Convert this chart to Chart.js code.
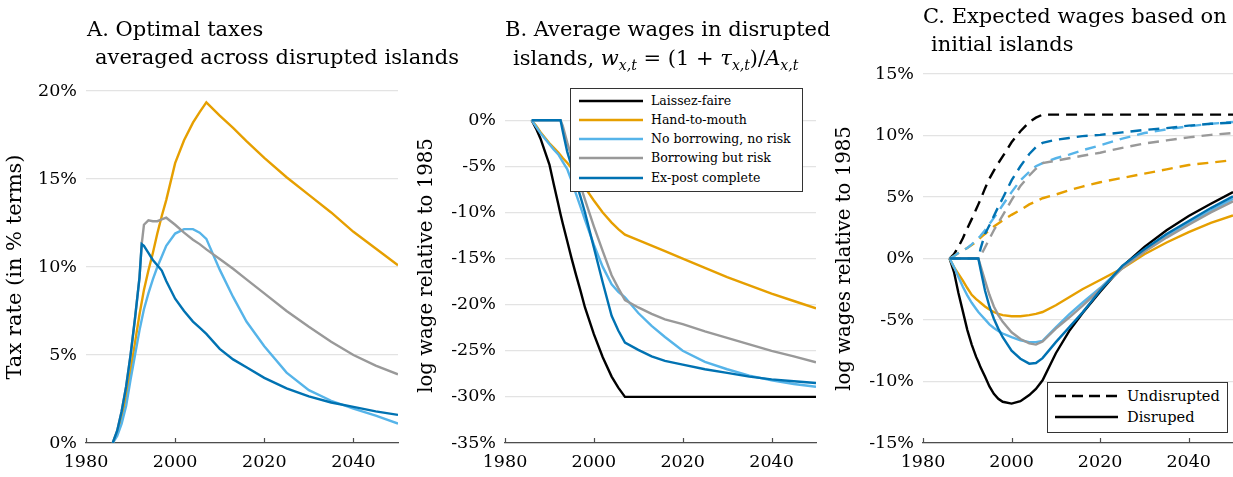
<!DOCTYPE html>
<html>
<head>
<meta charset="utf-8">
<script src="https://cdn.jsdelivr.net/npm/chart.js@4.4.0/dist/chart.umd.min.js"></script>
<style>
  body { margin: 0; background: #fff; width: 1233px; height: 477px; overflow: hidden; position: relative; font-family: "DejaVu Serif", serif; color: #000; }
  canvas { position: absolute; top: 0; }
  .ttl { position: absolute; font-size: 21px; line-height: 24px; white-space: nowrap; }
  .ttl sub { font-size: 14px; vertical-align: -5px; line-height: 0; }
  .legend { position: absolute; background: #fff; border: 1px solid #333; box-sizing: border-box; }
  .legend svg { position: absolute; }
  .legend span { position: absolute; white-space: nowrap; }
</style>
</head>
<body>
<canvas id="panelA" width="405" height="477" style="left:0"></canvas>
<canvas id="panelB" width="415" height="477" style="left:405px"></canvas>
<canvas id="panelC" width="413" height="477" style="left:820px"></canvas>

<div class="ttl" style="left:87px;top:17px">A. Optimal taxes</div>
<div class="ttl" style="left:95px;top:45px">averaged across disrupted islands</div>
<div class="ttl" style="left:505px;top:17px">B. Average wages in disrupted</div>
<div class="ttl" style="left:513px;top:46px">islands, <i>w</i><sub><i>x,t</i></sub> = (1 + <i>τ</i><sub><i>x,t</i></sub>)/<i>A</i><sub><i>x,t</i></sub></div>
<div class="ttl" style="left:923px;top:4px">C. Expected wages based on</div>
<div class="ttl" style="left:931px;top:32px">initial islands</div>

<div id="legendB" class="legend" style="left:570px;top:88px;width:233px;height:104px"></div>
<div id="legendC" class="legend" style="left:1047px;top:382px;width:181px;height:51px"></div>

<script>
// shared time axis (years)
var years = [1986, 1987, 1988, 1989, 1990, 1991, 1992, 1992.5, 1993, 1994, 1995, 1996, 1997, 1998,
             2000, 2002, 2004, 2005.5, 2007, 2010, 2013, 2016, 2020, 2025, 2030, 2035, 2040, 2045, 2050];

var modelNames = ['Laissez-faire', 'Hand-to-mouth', 'No borrowing, no risk', 'Borrowing but risk', 'Ex-post complete'];
var modelColors = ['#000000', '#E69F00', '#56B4E9', '#999999', '#0072B2'];

// A. optimal taxes (%)
var taxHandToMouth = [0, 0.6, 1.5, 2.6, 4.1, 5.7, 7.3, 8.0, 8.7, 9.8, 10.8, 11.9, 12.9, 13.8,
                      15.9, 17.2, 18.2, 18.8, 19.35, 18.6, 17.9, 17.15, 16.2, 15.1, 14.1, 13.1, 12.0, 11.05, 10.1];
var taxNoBorrowing = [0, 0.4, 1.1, 2.1, 3.6, 5.0, 6.4, 7.0, 7.6, 8.5, 9.3, 10.0, 10.6, 11.2,
                      11.9, 12.15, 12.15, 11.95, 11.6, 9.85, 8.3, 6.9, 5.5, 4.0, 3.0, 2.4, 1.95, 1.55, 1.1];
var taxBorrowRisk = [0, 0.7, 1.8, 3.2, 5.0, 7.1, 9.4, 11.3, 12.4, 12.65, 12.6, 12.6, 12.7, 12.8,
                     12.4, 11.95, 11.55, 11.3, 11.0, 10.45, 9.9, 9.3, 8.5, 7.5, 6.6, 5.75, 5.0, 4.4, 3.9];
var taxExPost = [0, 0.7, 1.8, 3.2, 5.0, 7.1, 9.4, 11.3, 11.2, 10.8, 10.4, 10.1, 9.8, 9.2,
                 8.2, 7.5, 6.9, 6.55, 6.2, 5.35, 4.75, 4.3, 3.7, 3.1, 2.65, 2.3, 2.05, 1.8, 1.6];

// B. log wage relative to 1985 (%)
var wageLaissez = [0, -0.9, -2.0, -3.4, -4.8, -7.0, -9.1, -10.2, -11.2, -13.1, -15.0, -16.8, -18.5, -20.3,
                   -23.2, -25.7, -27.8, -29.0, -30, -30, -30, -30, -30, -30, -30, -30, -30, -30, -30];
var wageHandToMouth = [0, -0.6, -1.3, -1.9, -2.5, -3.0, -3.5, -3.8, -4.1, -4.6, -5.2, -5.9, -6.6, -7.3,
                       -8.7, -10.0, -11.1, -11.8, -12.4, -13.0, -13.6, -14.2, -15.0, -16.0, -17.0, -17.9, -18.8, -19.6, -20.4];
var wageNoBorrowing = [0, -0.7, -1.4, -2.0, -2.6, -3.2, -3.7, -4.1, -4.5, -5.3, -6.6, -8.0, -9.4, -10.8,
                       -13.5, -15.9, -17.8, -18.6, -19.2, -20.9, -22.3, -23.5, -25.0, -26.2, -27.0, -27.7, -28.2, -28.6, -28.9];
var wageBorrowRisk = [0, 0, 0, 0, 0, 0, 0, 0, -0.6, -2.4, -4.0, -5.6, -7.1, -8.6,
                      -11.5, -14.2, -16.8, -18.2, -19.5, -20.3, -21.0, -21.6, -22.1, -22.9, -23.6, -24.3, -25.0, -25.6, -26.25];
var wageExPost = [0, 0, 0, 0, 0, 0, 0, 0, -1.2, -3.4, -5.0, -6.7, -8.3, -10.0,
                  -13.8, -17.6, -21.2, -22.8, -24.1, -24.9, -25.6, -26.1, -26.5, -27.0, -27.4, -27.8, -28.1, -28.3, -28.5];

// C. expected wages, undisrupted islands (%)
var undLaissez = [0, 0.35, 0.95, 1.65, 2.45, 3.2, 4.0, 4.4, 4.8, 5.7, 6.5, 7.15, 7.75, 8.3,
                  9.45, 10.35, 11.1, 11.45, 11.7, 11.7, 11.7, 11.7, 11.7, 11.7, 11.7, 11.7, 11.7, 11.7, 11.7];
var undHandToMouth = [0, 0.2, 0.45, 0.65, 0.85, 1.1, 1.35, 1.5, 1.7, 2.0, 2.3, 2.6, 2.85, 3.1,
                      3.55, 3.95, 4.4, 4.65, 4.9, 5.2, 5.55, 5.85, 6.2, 6.55, 6.9, 7.25, 7.6, 7.8, 8.0];
var undNoBorrowing = [0, 0.2, 0.45, 0.65, 0.85, 1.15, 1.5, 1.65, 1.85, 2.3, 2.8, 3.3, 3.8, 4.35,
                      5.4, 6.35, 7.05, 7.5, 7.75, 8.15, 8.45, 8.8, 9.2, 9.75, 10.2, 10.5, 10.75, 10.95, 11.1];
var undBorrowRisk = [0, 0, 0, 0, 0, 0, 0, 0, 0.2, 0.9, 1.6, 2.3, 2.9, 3.5,
                     4.75, 5.9, 6.75, 7.3, 7.75, 7.95, 8.15, 8.35, 8.6, 9.0, 9.35, 9.6, 9.85, 10.05, 10.2];
var undExPost = [0, 0, 0, 0, 0, 0, 0, 0, 0.8, 2.0, 2.7, 3.45, 4.2, 4.9,
                 6.35, 7.5, 8.5, 9.05, 9.4, 9.65, 9.8, 9.95, 10.05, 10.25, 10.45, 10.6, 10.8, 10.95, 11.05];

// C. expected wages, disrupted islands (%)
var disLaissez = [0, -1.1, -2.8, -4.3, -5.8, -7.0, -8.0, -8.4, -8.85, -9.6, -10.4, -11.0, -11.4, -11.65,
                  -11.8, -11.6, -11.1, -10.6, -9.9, -7.7, -5.9, -4.45, -2.7, -0.65, 0.95, 2.3, 3.45, 4.45, 5.4];
var disHandToMouth = [0, -0.7, -1.25, -1.8, -2.4, -2.95, -3.3, -3.45, -3.6, -3.9, -4.15, -4.35, -4.5, -4.6,
                      -4.7, -4.7, -4.6, -4.5, -4.35, -3.8, -3.15, -2.5, -1.75, -0.8, 0.35, 1.3, 2.15, 2.9, 3.5];
var disNoBorrowing = [0, -0.7, -1.5, -2.3, -3.0, -3.6, -4.1, -4.35, -4.55, -4.95, -5.35, -5.65, -5.9, -6.1,
                      -6.4, -6.65, -6.8, -6.8, -6.7, -5.6, -4.55, -3.6, -2.4, -0.7, 0.7, 1.85, 2.9, 3.9, 4.85];
var disBorrowRisk = [0, 0, 0, 0, 0, 0, 0, 0, -0.6, -1.8, -2.95, -3.9, -4.6, -5.15,
                     -6.0, -6.55, -6.9, -7.0, -6.75, -5.7, -4.8, -3.85, -2.5, -0.8, 0.55, 1.7, 2.75, 3.75, 4.65];
var disExPost = [0, 0, 0, 0, 0, 0, 0, 0, -0.9, -2.6, -3.9, -4.9, -5.7, -6.4,
                 -7.5, -8.15, -8.55, -8.5, -8.1, -6.8, -5.6, -4.4, -2.6, -0.6, 0.75, 2.0, 3.05, 4.1, 5.05];

var xTicks = [1980, 2000, 2020, 2040];

function pts(vals) {
  return years.map(function(y, i) { return {x: y, y: vals[i]}; });
}

function line(label, vals, color, order, dash) {
  return {
    label: label,
    data: pts(vals),
    borderColor: color,
    borderWidth: 2.4,
    borderDash: dash || [],
    pointRadius: 0,
    fill: false,
    tension: 0,
    order: order
  };
}

// small inward tick marks on the bottom axis
var innerTicks = {
  id: 'innerTicks',
  afterDraw: function(chart) {
    var ctx = chart.ctx, area = chart.chartArea, x = chart.scales.x;
    ctx.save();
    ctx.strokeStyle = '#4d4d4d';
    ctx.lineWidth = 1.2;
    x.ticks.forEach(function(t) {
      var px = Math.round(x.getPixelForValue(t.value)) + 0.5;
      ctx.beginPath();
      ctx.moveTo(px, area.bottom);
      ctx.lineTo(px, area.bottom - 5);
      ctx.stroke();
    });
    ctx.restore();
  }
};

function makePanel(id, datasets, yMin, yMax, yTitle, titleSize, titlePad, leftW, padTop, padRight) {
  return new Chart(document.getElementById(id), {
    type: 'line',
    data: { datasets: datasets },
    plugins: [innerTicks],
    options: {
      responsive: false,
      animation: false,
      devicePixelRatio: 1,
      events: [],
      layout: { padding: { top: padTop, right: padRight, bottom: 0, left: 0 } },
      plugins: { legend: { display: false }, tooltip: { enabled: false } },
      scales: {
        x: {
          type: 'linear',
          min: 1980,
          max: 2050,
          afterBuildTicks: function(axis) {
            axis.ticks = xTicks.map(function(v) { return {value: v}; });
          },
          afterFit: function(s) { s.height = 34; },
          grid: { display: true, drawOnChartArea: false, drawTicks: false },
          border: { display: true, color: '#4d4d4d', width: 1.3 },
          ticks: {
            padding: 9,
            color: '#000',
            font: { family: 'DejaVu Serif', size: 17.5 },
            callback: function(v) { return String(v); }
          }
        },
        y: {
          min: yMin,
          max: yMax,
          afterBuildTicks: function(axis) {
            axis.ticks = axis.ticks.filter(function(t) { return Math.abs(t.value % 5) < 1e-6; });
          },
          afterFit: function(s) { s.width = leftW; },
          grid: { color: '#e3e3e3', lineWidth: 1.3, drawTicks: false },
          border: { display: false },
          ticks: {
            stepSize: 5,
            padding: 9,
            color: '#000',
            font: { family: 'DejaVu Serif', size: 17.5 },
            callback: function(v) { return v + '%'; }
          },
          title: {
            display: true,
            text: yTitle,
            color: '#000',
            font: { family: 'DejaVu Serif', size: titleSize },
            padding: { top: titlePad, bottom: 0 }
          }
        }
      }
    }
  });
}

makePanel('panelA', [
  line(modelNames[1], taxHandToMouth, modelColors[1], 4),
  line(modelNames[2], taxNoBorrowing, modelColors[2], 3),
  line(modelNames[3], taxBorrowRisk, modelColors[3], 2),
  line(modelNames[4], taxExPost, modelColors[4], 1)
], 0, 20, 'Tax rate (in % terms)', 21, 3, 86, 91, 7);

makePanel('panelB', [
  line(modelNames[0], wageLaissez, modelColors[0], 5),
  line(modelNames[1], wageHandToMouth, modelColors[1], 4),
  line(modelNames[2], wageNoBorrowing, modelColors[2], 3),
  line(modelNames[3], wageBorrowRisk, modelColors[3], 2),
  line(modelNames[4], wageExPost, modelColors[4], 1)
], -35, 3.5, 'log wage relative to 1985', 19.7, 10, 100, 88, 4);

var dash = [11, 7];
makePanel('panelC', [
  line('Undisrupted ' + modelNames[0], undLaissez, modelColors[0], 10, dash),
  line('Undisrupted ' + modelNames[1], undHandToMouth, modelColors[1], 9, dash),
  line('Undisrupted ' + modelNames[2], undNoBorrowing, modelColors[2], 8, dash),
  line('Undisrupted ' + modelNames[3], undBorrowRisk, modelColors[3], 7, dash),
  line('Undisrupted ' + modelNames[4], undExPost, modelColors[4], 6, dash),
  line('Disrupted ' + modelNames[0], disLaissez, modelColors[0], 5),
  line('Disrupted ' + modelNames[1], disHandToMouth, modelColors[1], 4),
  line('Disrupted ' + modelNames[2], disNoBorrowing, modelColors[2], 3),
  line('Disrupted ' + modelNames[3], disBorrowRisk, modelColors[3], 2),
  line('Disrupted ' + modelNames[4], disExPost, modelColors[4], 1)
], -15, 15, 'log wages relative to 1985', 19.7, 13, 103, 74, 0);

// legends (HTML, real text)
function addLegend(id, items, rowY, sampleX, sampleW, textX, fontSize) {
  var box = document.getElementById(id);
  items.forEach(function(it, i) {
    var svg = document.createElementNS('http://www.w3.org/2000/svg', 'svg');
    svg.setAttribute('width', sampleW);
    svg.setAttribute('height', 6);
    svg.style.left = sampleX + 'px';
    svg.style.top = (rowY[i] - 3) + 'px';
    var ln = document.createElementNS('http://www.w3.org/2000/svg', 'line');
    ln.setAttribute('x1', 0); ln.setAttribute('x2', sampleW);
    ln.setAttribute('y1', 3); ln.setAttribute('y2', 3);
    ln.setAttribute('stroke', it.color);
    ln.setAttribute('stroke-width', 2.6);
    if (it.dash) ln.setAttribute('stroke-dasharray', it.dash.join(' '));
    svg.appendChild(ln);
    box.appendChild(svg);
    var sp = document.createElement('span');
    sp.textContent = it.label;
    sp.style.left = textX + 'px';
    sp.style.top = (rowY[i] - fontSize * 0.62) + 'px';
    sp.style.fontSize = fontSize + 'px';
    sp.style.lineHeight = '1.2';
    box.appendChild(sp);
  });
}

addLegend('legendB', modelNames.map(function(n, i) { return {label: n, color: modelColors[i]}; }),
  [12, 31, 50, 69, 89], 8, 64, 80, 12.5);
addLegend('legendC', [
  {label: 'Undisrupted', color: '#000', dash: [11, 6]},
  {label: 'Disruped', color: '#000'}
], [13, 34], 7, 63, 79, 14.6);
</script>
</body>
</html>
